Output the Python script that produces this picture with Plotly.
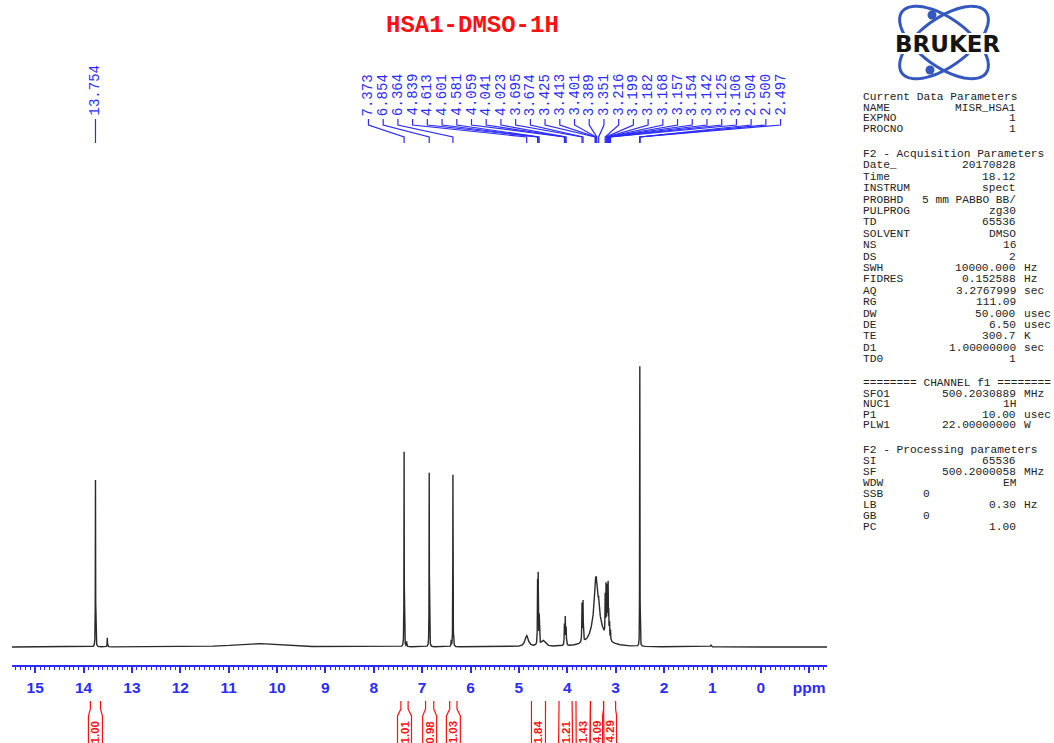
import numpy as np
import plotly.graph_objects as go

W, H = 1054, 743
BLUE = "#2b2bff"
RED = "#ff1010"
INK = "#2a2a2a"
LOGO_BLUE = "#3557c0"

# ---------------- 1H spectrum: Lorentzian lines (shift / ppm, height, half-width / ppm)
line_shift = [13.754, 13.51, 10.45, 7.373, 7.32, 6.854, 6.40, 6.364,
              4.839, 4.613, 4.601, 4.581, 4.50,
              4.059, 4.041, 4.023, 3.695, 3.674,
              3.40, 3.35, 3.425, 3.413, 3.401, 3.389, 3.351,
              3.216, 3.199, 3.182, 3.168, 3.157, 3.154, 3.142, 3.125, 3.106,
              2.504, 2.500, 2.497, 1.03]
line_height = [167, 9, 3.5, 195, 5, 174, 6, 172,
               11, 64, 66, 28, 6,
               20, 27, 17, 38, 40,
               45, 12, 10, 12, 10, 8, 8,
               38, 48, 46, 38, 30, 28, 24, 16, 10,
               180, 220, 190, 2]
line_hwhm = [0.003, 0.004, 0.5, 0.003, 0.004, 0.003, 0.004, 0.003,
             0.04, 0.004, 0.004, 0.004, 0.05,
             0.005, 0.005, 0.005, 0.005, 0.005,
             0.07, 0.15, 0.006, 0.006, 0.006, 0.006, 0.006,
             0.004, 0.004, 0.004, 0.004, 0.004, 0.004, 0.004, 0.004, 0.004,
             0.0015, 0.0015, 0.0015, 0.01]

# picked peaks printed above the spectrum
lone_peak = 13.754
peak_group = [7.373, 6.854, 6.364, 4.839, 4.613, 4.601, 4.581, 4.059, 4.041,
              4.023, 3.695, 3.674, 3.425, 3.413, 3.401, 3.389, 3.351, 3.216,
              3.199, 3.182, 3.168, 3.157, 3.154, 3.142, 3.125, 3.106, 2.504,
              2.500, 2.497]

# integral regions (ppm) and their normalised values
integral_start = [13.86, 7.44, 6.93, 6.43, 4.74, 4.17, 3.82, 3.52, 3.25]
integral_end = [13.65, 7.29, 6.76, 6.28, 4.45, 3.90, 3.52, 3.25, 3.00]
integral_value = ["1.00", "1.01", "0.98", "1.03", "1.84", "1.21", "1.43", "4.09", "4.29"]

axis_ticks = list(range(15, -2, -1))
axis_ticktext = [str(t) for t in range(15, -1, -1)] + ["ppm"]

# acquisition / processing parameter block
params_current = [("NAME", "MISR_HSA1", ""), ("EXPNO", "1", ""), ("PROCNO", "1", "")]
params_acq = [("Date_", "20170828", ""), ("Time", "18.12", ""), ("INSTRUM", "spect", ""),
              ("PROBHD", "5 mm PABBO BB/", ""), ("PULPROG", "zg30", ""), ("TD", "65536", ""),
              ("SOLVENT", "DMSO", ""), ("NS", "16", ""), ("DS", "2", ""),
              ("SWH", "10000.000", "Hz"), ("FIDRES", "0.152588", "Hz"),
              ("AQ", "3.2767999", "sec"), ("RG", "111.09", ""), ("DW", "50.000", "usec"),
              ("DE", "6.50", "usec"), ("TE", "300.7", "K"), ("D1", "1.00000000", "sec"),
              ("TD0", "1", "")]
params_chan = [("SFO1", "500.2030889", "MHz"), ("NUC1", "1H", ""), ("P1", "10.00", "usec"),
               ("PLW1", "22.00000000", "W")]
params_proc = [("SI", "65536", ""), ("SF", "500.2000058", "MHz"), ("WDW", "EM", ""),
               ("SSB", "0", "left"), ("LB", "0.30", "Hz"), ("GB", "0", "left"), ("PC", "1.00", "")]


def py(pix):
    """pixel row -> paper y"""
    return 1 - pix / H


def dom(top, bottom):
    return [1 - bottom / H, 1 - top / H]


PX_PER_PPM = (827 - 12) / (15.48 + 1.37)

# ---------------- spectrum trace
ppm = np.arange(15.48, -1.37, -0.0005)
inten = np.zeros_like(ppm)
for s, h, g in zip(line_shift, line_height, line_hwhm):
    inten += h / (1 + ((ppm - s) / g) ** 2)

fig = go.Figure()
fig.add_trace(go.Scatter(x=np.round(ppm, 4), y=np.round(inten, 3), mode="lines",
                         line=dict(color=INK, width=1.4), hoverinfo="skip",
                         xaxis="x", yaxis="y"))

annotations = []

# ---------------- peak labels and their leader lines
LABEL_FONT = dict(family="Liberation Mono", size=14, color=BLUE)
lx_all, ly_all = [lone_peak, lone_peak, None], [119, 143, None]
annotations.append(dict(x=lone_peak, y=90, xref="x", yref="y3", text=f"{lone_peak:.3f}",
                        textangle=-90, showarrow=False, font=LABEL_FONT))
label_pos = np.linspace(8.11, -0.41, len(peak_group))
for lx, p in zip(label_pos, peak_group):
    lx_all += [lx, lx, p, p, None]
    ly_all += [119, 125, 137, 143, None]
    annotations.append(dict(x=lx, y=95, xref="x", yref="y3", text=f"{p:.3f}",
                            textangle=-90, showarrow=False, font=LABEL_FONT))
fig.add_trace(go.Scatter(x=lx_all, y=ly_all, mode="lines", line=dict(color=BLUE, width=1.2),
                         hoverinfo="skip", xaxis="x", yaxis="y3"))

# ---------------- integral brackets
half_box = 7 / PX_PER_PPM
ix, iy = [], []
for a, b, v in zip(integral_start, integral_end, integral_value):
    c = (a + b) / 2
    ix += [a, a, c + half_box, c + half_box, None, b, b, c - half_box, c - half_box, None]
    iy += [701, 709, 716, 746, None, 701, 709, 716, 746, None]
    annotations.append(dict(x=c, y=732, xref="x", yref="y2", text=v, textangle=-90,
                            showarrow=False,
                            font=dict(family="Liberation Sans", size=11.5, color=RED,
                                      weight="bold")))
fig.add_trace(go.Scatter(x=ix, y=iy, mode="lines", line=dict(color=RED, width=1.2),
                         hoverinfo="skip", xaxis="x", yaxis="y2"))

# ---------------- title
annotations.append(dict(x=472 / W, y=py(25), xref="paper", yref="paper",
                        xanchor="center", yanchor="middle",
                        text="<b>HSA1-DMSO-1H</b>", showarrow=False,
                        font=dict(family="Liberation Mono", size=24, color=RED)))

# ---------------- logo
shapes = []


def ellipse_path(cx, cy, a, b, ang):
    t = np.linspace(0, 2 * np.pi, 90)
    ex = cx + a * np.cos(t) * np.cos(ang) - b * np.sin(t) * np.sin(ang)
    ey = cy + a * np.cos(t) * np.sin(ang) + b * np.sin(t) * np.cos(ang)
    pts = [f"{x / W:.5f},{py(y):.5f}" for x, y in zip(ex, ey)]
    return "M" + " L".join(pts) + " Z"


for ang in (np.radians(36), np.radians(-36)):
    shapes.append(dict(type="path", path=ellipse_path(944, 42.5, 52, 24, ang),
                       xref="paper", yref="paper", line=dict(color=LOGO_BLUE, width=3)))
for dx, dy in ((932, 15), (930, 70)):
    shapes.append(dict(type="circle", xref="paper", yref="paper",
                       x0=(dx - 4.5) / W, x1=(dx + 4.5) / W, y0=py(dy + 4.5), y1=py(dy - 4.5),
                       fillcolor=LOGO_BLUE, line=dict(width=0)))
# white band behind the name
shapes.append(dict(type="rect", xref="paper", yref="paper", x0=886 / W, x1=1009 / W,
                   y0=py(54), y1=py(33), fillcolor="white", line=dict(width=0)))
annotations.append(dict(x=947 / W, y=py(44), xref="paper", yref="paper", text="<b>BRUKER</b>",
                        xanchor="center", yanchor="middle", showarrow=False,
                        font=dict(family="DejaVu Sans", size=23, color="#151515")))

# ---------------- parameter block
TX0, VX1, UX0 = 862, 1017, 1023
PFONT = dict(family="Liberation Mono", size=11.2, color="#222222")


def text_at(x, y, s, anchor):
    annotations.append(dict(x=x / W, y=py(y), xref="paper", yref="paper", text=s,
                            xanchor=anchor, yanchor="middle", showarrow=False,
                            font=PFONT, borderpad=0))


def block(title, rows, y0, step):
    text_at(TX0, y0, title, "left")
    for i, (name, val, unit) in enumerate(rows):
        y = y0 + step * (i + 1)
        text_at(TX0, y, name, "left")
        if unit == "left":
            text_at(TX0 + 9 * 6.72, y, val, "left")
        else:
            text_at(VX1, y, val, "right")
            if unit:
                text_at(UX0, y, unit, "left")


block("Current Data Parameters", params_current, 97, 10.6)
block("F2 - Acquisition Parameters", params_acq, 154, 11.4)
block("======== CHANNEL f1 ========", params_chan, 383, 10.6)
block("F2 - Processing parameters", params_proc, 450, 11.0)

fig.update_layout(
    width=W, height=H, margin=dict(l=0, r=0, t=0, b=0),
    paper_bgcolor="white", plot_bgcolor="white", showlegend=False,
    xaxis=dict(domain=[12 / W, 827 / W], range=[15.48, -1.37], anchor="y",
               showline=True, linecolor=BLUE, linewidth=1.5, mirror=False,
               ticks="outside", ticklen=6, tickwidth=1.5, tickcolor=BLUE,
               tickvals=axis_ticks, ticktext=axis_ticktext, ticklabelstandoff=2,
               tickfont=dict(family="Liberation Sans", size=15.5, color=BLUE, weight="bold"),
               minor=dict(dtick=0.1, ticks="outside", ticklen=3, tickwidth=1, tickcolor=BLUE,
                          showgrid=False),
               showgrid=False, zeroline=False),
    yaxis=dict(domain=dom(150, 665), range=[-18, 497], visible=False, anchor="x"),
    yaxis2=dict(domain=dom(695, 743), range=[743, 695], visible=False, anchor="x"),
    yaxis3=dict(domain=dom(55, 150), range=[150, 55], visible=False, anchor="x"),
    annotations=annotations, shapes=shapes,
)

fig.write_html("out.html")
